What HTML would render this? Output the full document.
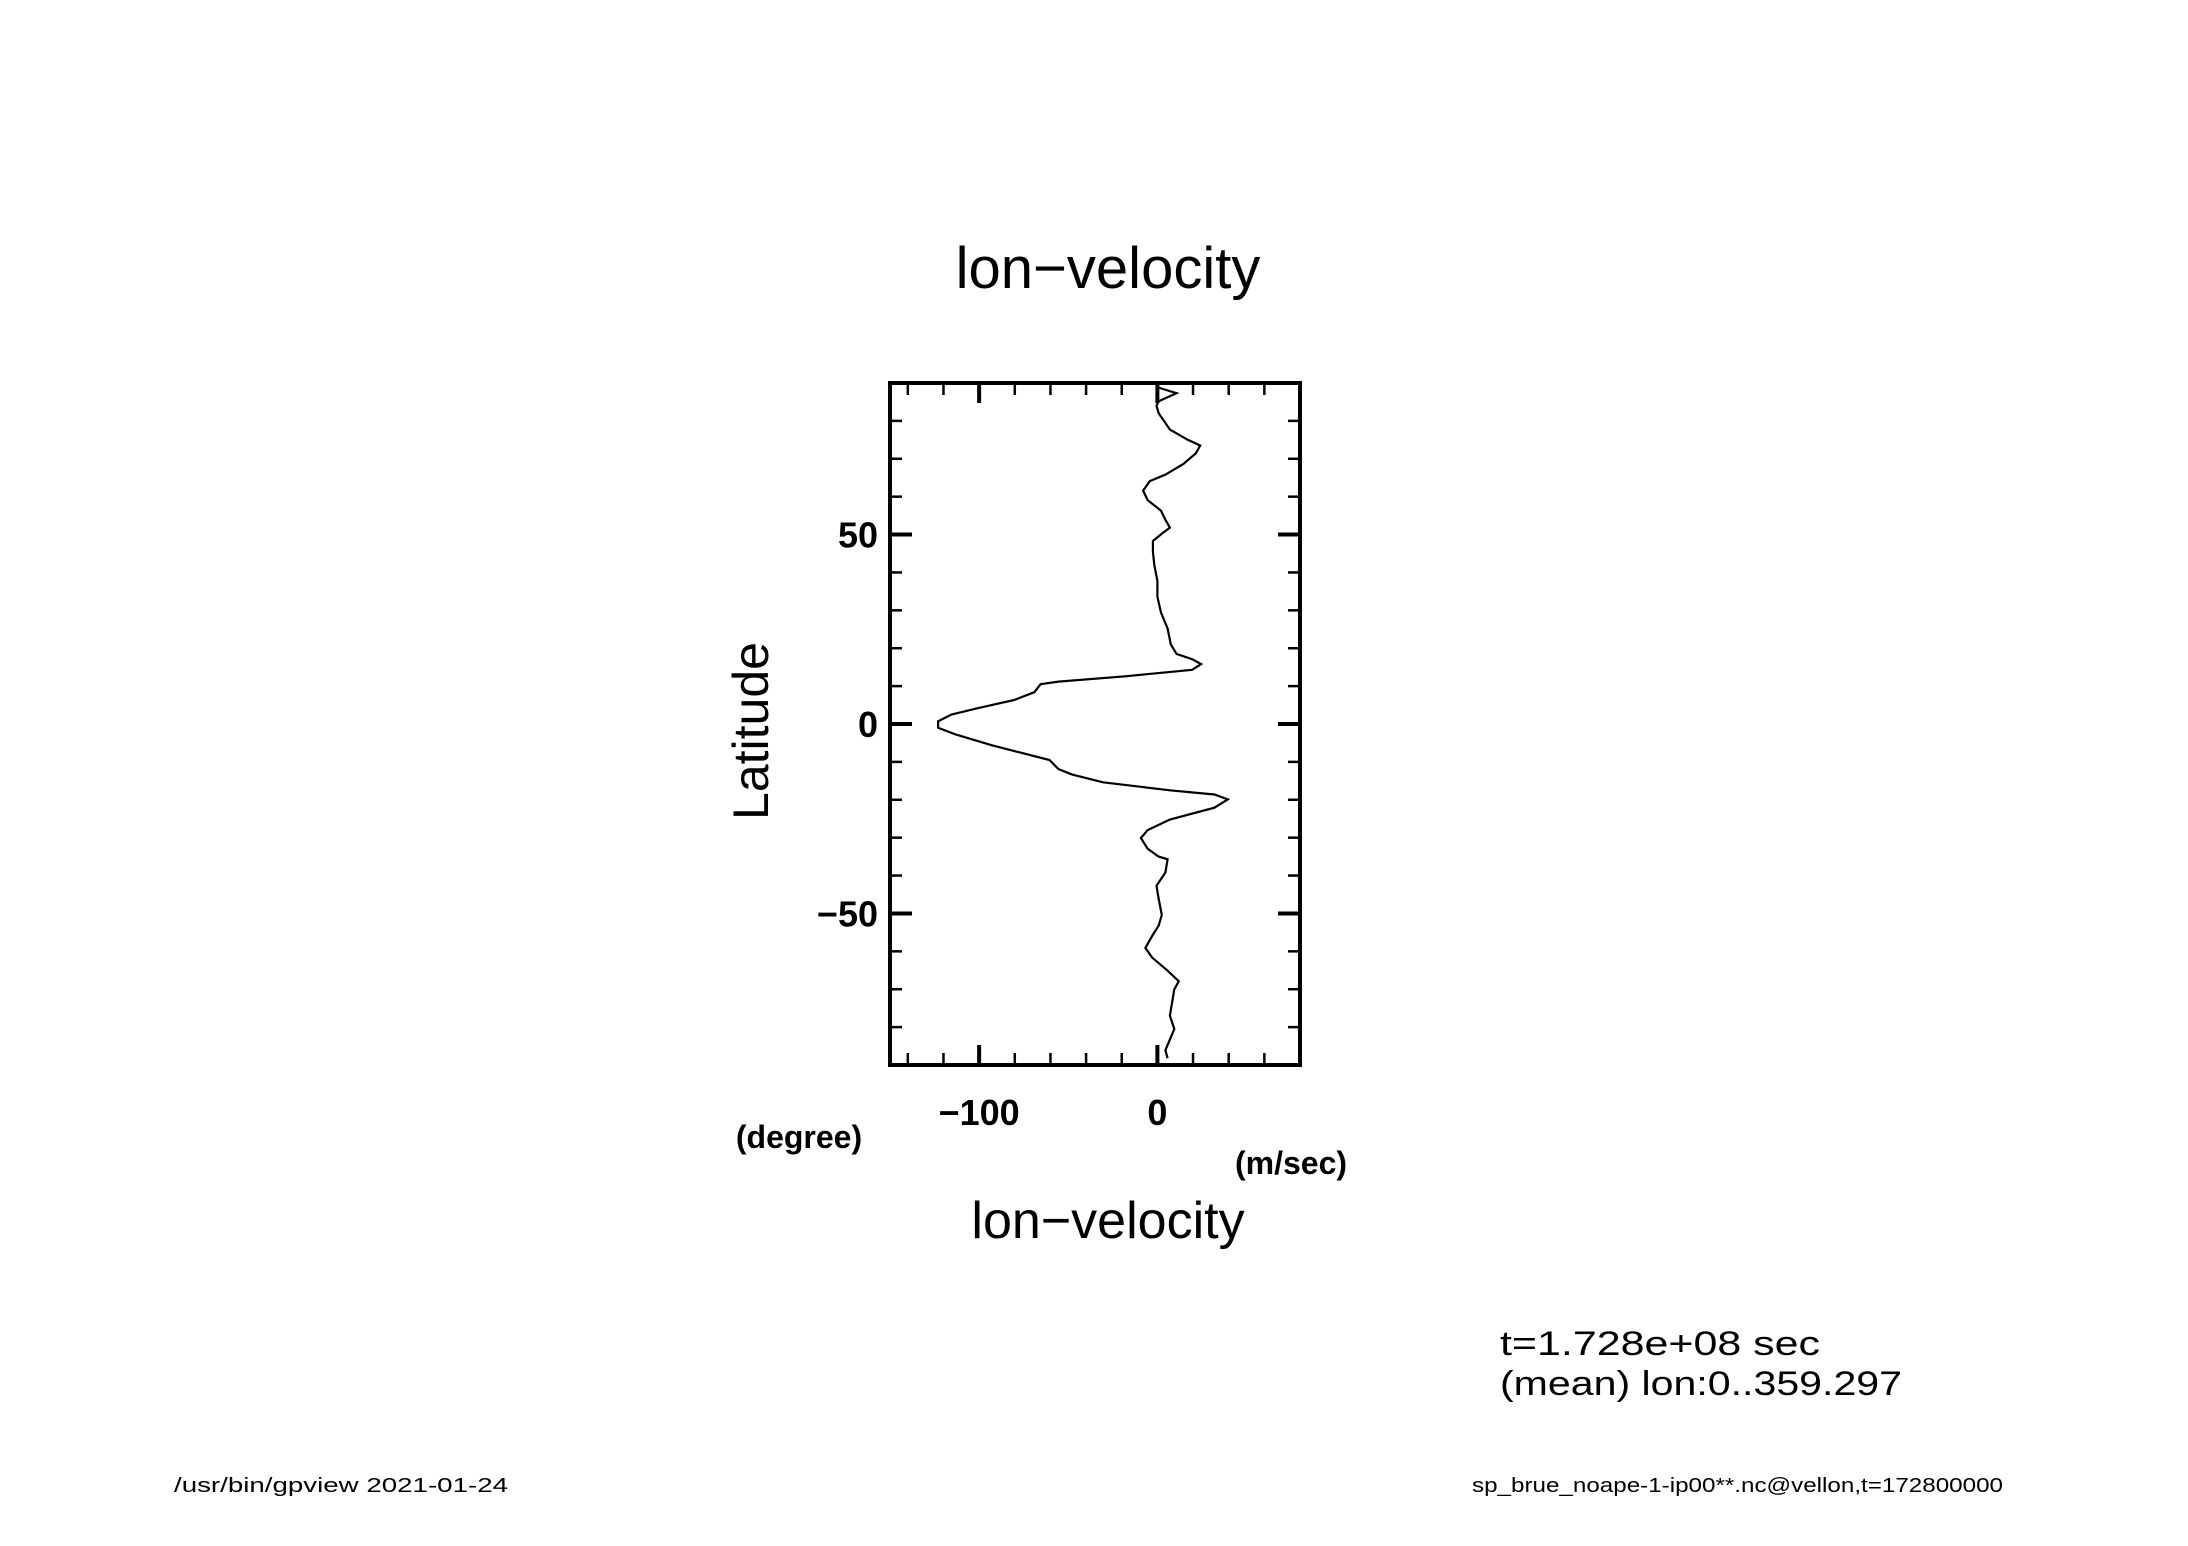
<!DOCTYPE html>
<html><head><meta charset="utf-8"><style>
html,body{margin:0;padding:0;background:#fff;}
svg{display:block;font-family:"Liberation Sans",sans-serif;}
</style></head><body>
<svg id="chart" width="2188" height="1546" viewBox="0 0 2188 1546" xmlns="http://www.w3.org/2000/svg">
<rect width="2188" height="1546" fill="#fff"/>
<text x="1108" y="288" font-size="58" text-anchor="middle" fill="#000">lon−velocity</text>
<g id="ticks"></g>
<path id="curve" fill="none" stroke="#000" stroke-width="2.2"/>
<rect x="890" y="383" width="410" height="682" fill="none" stroke="#000" stroke-width="4"/>
<g id="labels" font-weight="bold" font-size="36" fill="#000"></g>
<text transform="translate(768,731) rotate(-90)" font-size="50" text-anchor="middle" fill="#000">Latitude</text>
<text x="799" y="1148" font-size="32" font-weight="bold" text-anchor="middle" fill="#000">(degree)</text>
<text x="1291" y="1174" font-size="32" font-weight="bold" text-anchor="middle" fill="#000">(m/sec)</text>
<text x="1108" y="1238" font-size="52" text-anchor="middle" fill="#000">lon−velocity</text>
<text x="1500" y="1355" font-size="34" fill="#000" textLength="320" lengthAdjust="spacingAndGlyphs">t=1.728e+08 sec</text>
<text x="1500" y="1395" font-size="34" fill="#000" textLength="402" lengthAdjust="spacingAndGlyphs">(mean) lon:0..359.297</text>
<text x="174" y="1492" font-size="20" fill="#000" textLength="334" lengthAdjust="spacingAndGlyphs">/usr/bin/gpview  2021-01-24</text>
<text x="1472" y="1492" font-size="20" fill="#000" textLength="531" lengthAdjust="spacingAndGlyphs">sp_brue_noape-1-ip00**.nc@vellon,t=172800000</text>
</svg>
<script>
const lats = [89.5,88.8,87.3,85.2,84,82,77.7,75,73.5,71.4,68.6,65.8,64.1,61.6,59.1,56.3,53.9,51.8,50.4,48.3,45.5,42,37.8,33.6,29.4,25.2,21,18.5,17.1,15.8,14.3,12.6,11.2,10.5,8.4,6.3,4.2,2.5,0.7,-1,-2.8,-5.6,-7.7,-9.5,-11.9,-13.3,-15.4,-17.5,-18.6,-19.9,-22.1,-25.2,-28,-30.1,-32.9,-35,-35.7,-39.2,-42.7,-46.2,-50.4,-53.2,-56,-59.1,-61.6,-65.1,-67.9,-70,-73.5,-77,-80.5,-83.3,-86.1,-88.2];
const uVals = [0,0.5,10.7,0.75,-0.5,0.75,7,17,24,21.5,14.5,4.5,-4.25,-8,-5.5,2,4.5,7,3,-2.5,-2.5,-1.75,0,0,2,5.75,7.5,10.75,19.5,24.5,19.5,-18,-55.5,-65.5,-69,-80.5,-100.5,-115.5,-123,-123,-113,-93,-75.5,-60.5,-55.5,-48,-30.5,7,32,39.5,32,7,-5.5,-9.25,-5.5,0.75,5.75,4.5,-0.5,0.75,2.5,0.75,-3,-6.75,-3,5.75,12,9.5,8.25,7,9.5,7,4.5,5.75];
const xTickLabels = ["−100","0"];
const xTickValues = [-100,0];
const yTickLabels = ["50","0","−50"];
const yTickValues = [50,0,-50];
const X0=890,X1=1300,Y0=383,Y1=1065,UMIN=-150,UMAX=80;
const xs=u=>X0+(u-UMIN)/(UMAX-UMIN)*(X1-X0);
const ys=l=>Y0+(90-l)/180*(Y1-Y0);
const ns="http://www.w3.org/2000/svg";
let d="";
for(let i=0;i<lats.length;i++){d+=(i?"L":"M")+xs(uVals[i]).toFixed(1)+","+ys(lats[i]).toFixed(1);}
document.getElementById("curve").setAttribute("d",d);
const tg=document.getElementById("ticks");
function line(x1,y1,x2,y2,w){const l=document.createElementNS(ns,"line");
l.setAttribute("x1",x1);l.setAttribute("y1",y1);l.setAttribute("x2",x2);l.setAttribute("y2",y2);
l.setAttribute("stroke","#000");l.setAttribute("stroke-width",w);


tg.appendChild(l);}
for(let u=-140;u<=80;u+=20){const maj=(u%100===0);const L=maj?20:12;const x=xs(u);
line(x,Y1,x,Y1-L,maj?4:2.5);line(x,Y0,x,Y0+L,maj?4:2.5);}
for(let l=-80;l<=80;l+=10){const maj=(l%50===0);const L=maj?22:12;const y=ys(l);
line(X0,y,X0+L,y,maj?4:2.5);line(X1,y,X1-L,y,maj?4:2.5);}
const lg=document.getElementById("labels");
xTickLabels.forEach((t,i)=>{const e=document.createElementNS(ns,"text");
e.setAttribute("x",xs(xTickValues[i]));e.setAttribute("y",1125);e.setAttribute("text-anchor","middle");


e.textContent=t;lg.appendChild(e);});
yTickLabels.forEach((t,i)=>{const e=document.createElementNS(ns,"text");
e.setAttribute("x",878);e.setAttribute("y",ys(yTickValues[i])+13);e.setAttribute("text-anchor","end");


e.textContent=t;lg.appendChild(e);});
</script>
</body></html>
